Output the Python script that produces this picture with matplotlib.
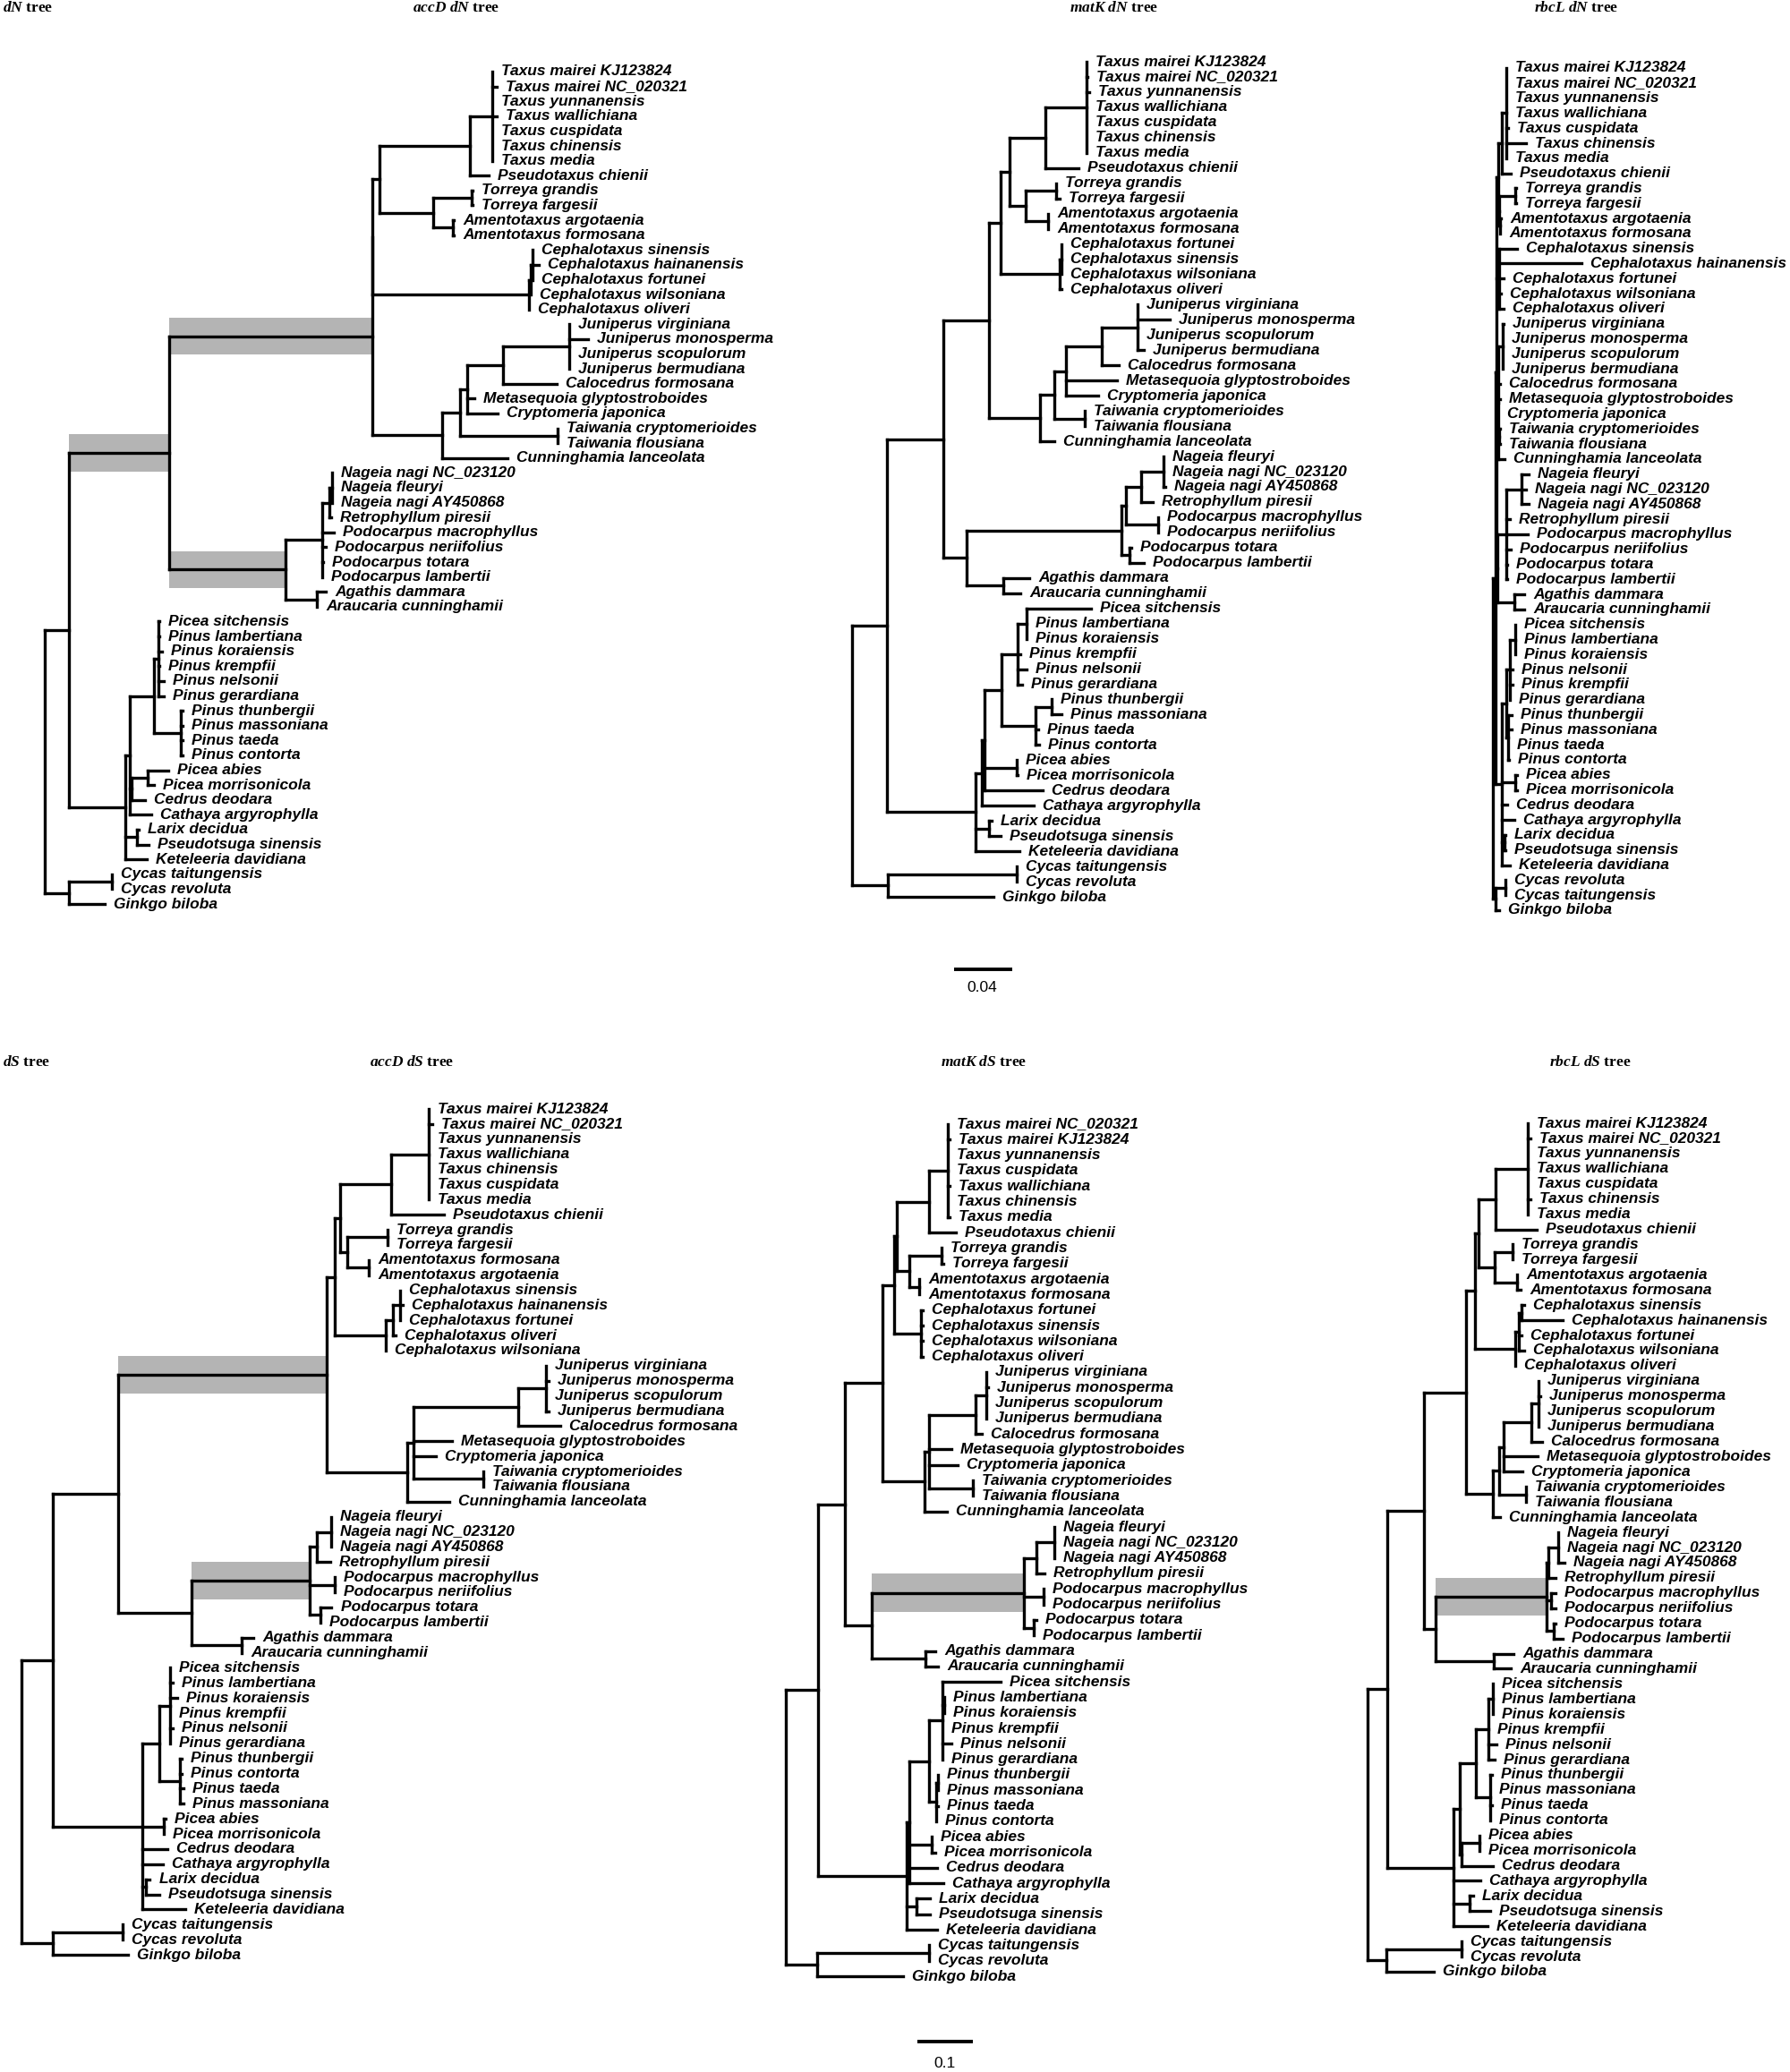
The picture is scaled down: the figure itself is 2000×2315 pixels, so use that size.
import matplotlib
matplotlib.use('Agg')
import matplotlib.pyplot as plt
from matplotlib.collections import LineCollection
from matplotlib.patches import Rectangle

plt.rcParams['mathtext.fontset'] = 'custom'
plt.rcParams['mathtext.rm'] = 'Liberation Serif:bold'
plt.rcParams['mathtext.it'] = 'Liberation Serif:italic:bold'
plt.rcParams['mathtext.bf'] = 'Liberation Serif:bold'

# ---------------- data: trees (Newick, branch lengths in substitutions/site; '*' = highlighted branch)
TREE_ACCD_DN = (
    "((((((((Taxus mairei KJ123824:0,Taxus mairei NC_020321:0.0031,Taxus yunnanensis:0,Taxus wallichiana:0.0031,"
    "Taxus cuspidata:0,Taxus chinensis:0,Taxus media:0):0.0154,Pseudotaxus chienii:0.0129):0.0621,"
    "((Torreya grandis:0.0006,Torreya fargesii:0.0006):0.0264,(Amentotaxus argotaenia:0.0006,Amentotaxus formosana:0.0006):0.0135):0.0369"
    "):0.0049,"
    "(((Cephalotaxus sinensis:0,Cephalotaxus hainanensis:0.0043,Cephalotaxus fortunei:0):0.0012,Cephalotaxus wilsoniana:0):0.0012,Cephalotaxus oliveri:0):0.1076"
    "):0,"
    "(((((Juniperus virginiana:0,Juniperus monosperma:0.0129,Juniperus scopulorum:0,Juniperus bermudiana:0):0.0455,Calocedrus formosana:0.0369):0.0246,"
    "Metasequoia glyptostroboides:0.0049,Cryptomeria japonica:0.0209):0.0049,(Taiwania cryptomerioides:0,Taiwania flousiana:0):0.0670):0.0123,"
    "Cunninghamia lanceolata:0.0449):0.0480"
    ")*:0.1396,"
    "((((Nageia nagi NC_023120:0,Nageia fleuryi:0,Nageia nagi AY450868:0):0.0018,Retrophyllum piresii:0.0012):0.0049,"
    "Podocarpus macrophyllus:0.0080,Podocarpus neriifolius:0.0025,Podocarpus totara:0.0006,Podocarpus lambertii:0):0.0252,"
    "(Agathis dammara:0.0062,Araucaria cunninghamii:0):0.0215)*:0.0800"
    ")*:0.0689,"
    "((((Picea sitchensis:0.0006,Pinus lambertiana:0.0006,Pinus koraiensis:0.0025,Pinus krempfii:0.0006,Pinus nelsonii:0.0037,"
    "Pinus gerardiana:0.0037):0.0031,(Pinus thunbergii:0.0012,Pinus massoniana:0.0012,Pinus taeda:0.0012,Pinus contorta:0.0012):0.0185):0.0166,"
    "((Picea abies:0.0141,Picea morrisonicola:0.0043):0.0111,Cedrus deodara:0.0092):0.0012,Cathaya argyrophylla:0.0148):0.0031,"
    "(Larix decidua:0.0012,Pseudotsuga sinensis:0.0080):0.0080,Keteleeria davidiana:0.0148):0.0387"
    "):0.0166,"
    "((Cycas taitungensis:0,Cycas revoluta:0):0.0295,Ginkgo biloba:0.0246):0.0166);"
)

TREE_MATK_DN = (
    "((((((((Taxus mairei KJ123824:0,Taxus mairei NC_020321:0.0006,Taxus yunnanensis:0.0018,Taxus wallichiana:0,"
    "Taxus cuspidata:0,Taxus chinensis:0,Taxus media:0):0.0283,Pseudotaxus chienii:0.0228):0.0246,"
    "((Torreya grandis:0,Torreya fargesii:0.0025):0.0209,(Amentotaxus argotaenia:0,Amentotaxus formosana:0):0.0154):0.0111"
    "):0.0062,"
    "((Cephalotaxus fortunei:0,Cephalotaxus sinensis:0,Cephalotaxus wilsoniana:0):0.0012,Cephalotaxus oliveri:0.0012):0.0406"
    "):0.0080,"
    "(((((Juniperus virginiana:0,Juniperus monosperma:0.0221,Juniperus scopulorum:0,Juniperus bermudiana:0.0043):0.0246,"
    "Calocedrus formosana:0.0117):0.0246,Metasequoia glyptostroboides:0.0351,Cryptomeria japonica:0.0221):0.0080,"
    "(Taiwania cryptomerioides:0,Taiwania flousiana:0):0.0209):0.0098,Cunninghamia lanceolata:0.0098):0.0351"
    "):0.0314,"
    "(((((Nageia fleuryi:0,Nageia nagi NC_023120:0,Nageia nagi AY450868:0.0012):0.0154,Retrophyllum piresii:0.0080):0.0105,"
    "(Podocarpus macrophyllus:0,Podocarpus neriifolius:0):0.0221):0.0031,(Podocarpus totara:0.0012,Podocarpus lambertii:0.0098):0.0055):0.1064,"
    "(Agathis dammara:0.0178,Araucaria cunninghamii:0.0117):0.0252):0.0160"
    "):0.0387,"
    "((((((Picea sitchensis:0.0443,Pinus lambertiana:0,Pinus koraiensis:0):0.0062,Pinus krempfii:0.0018,Pinus nelsonii:0.0062,"
    "Pinus gerardiana:0.0031):0.0111,((Pinus thunbergii:0,Pinus massoniana:0.0068):0.0111,Pinus taeda:0.0018,Pinus contorta:0.0025):0.0234):0.0117,"
    "(Picea abies:0,Picea morrisonicola:0.0006):0.0221,Cedrus deodara:0.0400):0.0018,Cathaya argyrophylla:0.0357):0.0043,"
    "(Larix decidua:0.0018,Pseudotsuga sinensis:0.0080):0.0092,Keteleeria davidiana:0.0301):0.0609"
    "):0.0240,"
    "((Cycas taitungensis:0,Cycas revoluta:0):0.0886,Ginkgo biloba:0.0726):0.0246);"
)

TREE_RBCL_DN = (
    "((((((Taxus mairei KJ123824:0,Taxus mairei NC_020321:0,Taxus yunnanensis:0,Taxus wallichiana:0,Taxus cuspidata:0.0012,"
    "Taxus chinensis:0.0135,Taxus media:0):0.0031,Pseudotaxus chienii:0.0062):0.0025,"
    "((Torreya grandis:0.0006,Torreya fargesii:0.0006):0.0111,(Amentotaxus argotaenia:0.0006,Amentotaxus formosana:0):0.0006):0.0006"
    "):0.0012,"
    "(Cephalotaxus sinensis:0.0123,Cephalotaxus hainanensis:0.0566,Cephalotaxus fortunei:0.0031,Cephalotaxus wilsoniana:0.0012,"
    "Cephalotaxus oliveri:0.0031):0.0018,"
    "((Juniperus virginiana:0.0006,Juniperus monosperma:0,Juniperus scopulorum:0,Juniperus bermudiana:0):0.0031,Calocedrus formosana:0.0012,"
    "Metasequoia glyptostroboides:0.0012,Cryptomeria japonica:0,(Taiwania cryptomerioides:0.0006,Taiwania flousiana:0.0006):0.0006,"
    "Cunninghamia lanceolata:0.0043):0.0012,"
    "(((Nageia fleuryi:0.0049,Nageia nagi NC_023120:0.0031,Nageia nagi AY450868:0.0049):0.0105,Retrophyllum piresii:0.0025,"
    "Podocarpus macrophyllus:0.0148,Podocarpus neriifolius:0.0031,Podocarpus totara:0.0006,Podocarpus lambertii:0.0006):0.0062,"
    "(Agathis dammara:0.0068,Araucaria cunninghamii:0.0068):0.0117):0.0006"
    "):0.0006,"
    "((((Picea sitchensis:0,Pinus lambertiana:0,Pinus koraiensis:0):0.0037,Pinus nelsonii:0.0018,Pinus krempfii:0.0018,Pinus gerardiana:0):0.0025,"
    "(Pinus thunbergii:0.0025,Pinus massoniana:0.0025,Pinus taeda:0,Pinus contorta:0.0006):0.0012):0.0031,"
    "(Picea abies:0.0012,Picea morrisonicola:0.0012):0.0092,Cedrus deodara:0.0037,Cathaya argyrophylla:0.0086,"
    "(Larix decidua:0.0006,Pseudotsuga sinensis:0.0006):0.0018,Keteleeria davidiana:0.0055):0.0043"
    "):0.0018,"
    "((Cycas revoluta:0,Cycas taitungensis:0):0.0068,Ginkgo biloba:0.0025):0.0018);"
)

TREE_ACCD_DS = (
    "((((((((Taxus mairei KJ123824:0,Taxus mairei NC_020321:0.0065,Taxus yunnanensis:0,Taxus wallichiana:0,Taxus chinensis:0,"
    "Taxus cuspidata:0,Taxus media:0):0.0677,Pseudotaxus chienii:0.0952):0.0919,"
    "((Torreya grandis:0,Torreya fargesii:0):0.0726,(Amentotaxus formosana:0,Amentotaxus argotaenia:0):0.0387):0.0129"
    "):0.0097,"
    "(((Cephalotaxus sinensis:0,Cephalotaxus hainanensis:0.0048,Cephalotaxus fortunei:0):0.0129,Cephalotaxus oliveri:0.0048):0.0129,"
    "Cephalotaxus wilsoniana:0):0.0919"
    "):0.0145,"
    "((((Juniperus virginiana:0,Juniperus monosperma:0.0048,Juniperus scopulorum:0,Juniperus bermudiana:0.0048):0.0500,"
    "Calocedrus formosana:0.0758):0.1887,Metasequoia glyptostroboides:0.0694,Cryptomeria japonica:0.0403,"
    "(Taiwania cryptomerioides:0,Taiwania flousiana:0):0.1258):0.0113,Cunninghamia lanceolata:0.0758):0.1452"
    ")*:0.3758,"
    "((((Nageia fleuryi:0,Nageia nagi NC_023120:0,Nageia nagi AY450868:0):0.0258,Retrophyllum piresii:0.0242):0.0129,"
    "(Podocarpus macrophyllus:0,Podocarpus neriifolius:0):0.0452,(Podocarpus totara:0.0194,Podocarpus lambertii:0):0.0194)*:0.2129,"
    "(Agathis dammara:0.0210,Araucaria cunninghamii:0):0.0903):0.1323"
    "):0.1177,"
    "(((Picea sitchensis:0,Pinus lambertiana:0.0048,Pinus koraiensis:0.0129,Pinus krempfii:0,Pinus nelsonii:0.0048,"
    "Pinus gerardiana:0):0.0194,(Pinus thunbergii:0.0032,Pinus contorta:0.0032,Pinus taeda:0.0065,Pinus massoniana:0.0065):0.0371):0.0306,"
    "(Picea abies:0.0032,Picea morrisonicola:0):0.0387,Cedrus deodara:0.0452,Cathaya argyrophylla:0.0371,"
    "(Larix decidua:0.0065,Pseudotsuga sinensis:0.0242):0.0065,Keteleeria davidiana:0.0774):0.1613"
    "):0.0565,"
    "((Cycas taitungensis:0,Cycas revoluta:0):0.1258,Ginkgo biloba:0.1355):0.0565);"
)

TREE_MATK_DS = (
    "((((((((Taxus mairei NC_020321:0,Taxus mairei KJ123824:0.0032,Taxus yunnanensis:0,Taxus cuspidata:0,Taxus wallichiana:0.0032,"
    "Taxus chinensis:0,Taxus media:0.0032):0.0339,Pseudotaxus chienii:0.0484):0.0581,"
    "((Torreya grandis:0,Torreya fargesii:0.0032):0.0581,(Amentotaxus argotaenia:0,Amentotaxus formosana:0):0.0177):0.0226"
    "):0.0048,"
    "(Cephalotaxus fortunei:0.0032,Cephalotaxus sinensis:0.0032,Cephalotaxus wilsoniana:0.0032,Cephalotaxus oliveri:0.0032):0.0484"
    "):0.0210,"
    "((((Juniperus virginiana:0,Juniperus monosperma:0.0032,Juniperus scopulorum:0,Juniperus bermudiana:0):0.0194,"
    "Calocedrus formosana:0.0113):0.0839,Metasequoia glyptostroboides:0.0403,Cryptomeria japonica:0.0516,"
    "(Taiwania cryptomerioides:0,Taiwania flousiana:0):0.0790):0.0081,Cunninghamia lanceolata:0.0403):0.0758"
    "):0.0677,"
    "((((Nageia fleuryi:0,Nageia nagi NC_023120:0,Nageia nagi AY450868:0):0.0323,Retrophyllum piresii:0.0145):0.0226,"
    "(Podocarpus macrophyllus:0,Podocarpus neriifolius:0):0.0355,(Podocarpus totara:0.0048,Podocarpus lambertii:0):0.0177)*:0.2742,"
    "(Agathis dammara:0.0177,Araucaria cunninghamii:0.0226):0.0968):0.0484"
    "):0.0484,"
    "((((Picea sitchensis:0.1048,(Pinus lambertiana:0,Pinus koraiensis:0):0.0032,Pinus krempfii:0,Pinus nelsonii:0.0161,"
    "Pinus gerardiana:0):0.0242,((Pinus thunbergii:0,Pinus massoniana:0):0.0032,Pinus taeda:0.0032,Pinus contorta:0):0.0129):0.0355,"
    "(Picea abies:0,Picea morrisonicola:0.0065):0.0403,Cedrus deodara:0.0500,Cathaya argyrophylla:0.0613):0.0048,"
    "(Larix decidua:0.0242,Pseudotsuga sinensis:0.0242):0.0177,Keteleeria davidiana:0.0548):0.1597"
    "):0.0581,"
    "((Cycas taitungensis:0,Cycas revoluta:0):0.2016,Ginkgo biloba:0.1548):0.0565);"
)

TREE_RBCL_DS = (
    "((((((((Taxus mairei KJ123824:0,Taxus mairei NC_020321:0.0048,Taxus yunnanensis:0,Taxus wallichiana:0,Taxus cuspidata:0,"
    "Taxus chinensis:0.0048,Taxus media:0):0.0581,Pseudotaxus chienii:0.0742):0.0306,"
    "((Torreya grandis:0,Torreya fargesii:0):0.0323,(Amentotaxus argotaenia:0,Amentotaxus formosana:0.0065):0.0403):0.0290"
    "):0.0065,"
    "(((Cephalotaxus sinensis:0.0048,Cephalotaxus hainanensis:0.0742):0.0048,Cephalotaxus fortunei:0.0048,"
    "Cephalotaxus wilsoniana:0.0097):0.0065,Cephalotaxus oliveri:0):0.0726"
    "):0.0161,"
    "(((((Juniperus virginiana:0,Juniperus monosperma:0.0032,Juniperus scopulorum:0,Juniperus bermudiana:0):0.0129,"
    "Calocedrus formosana:0.0194):0.0500,Metasequoia glyptostroboides:0.0613,Cryptomeria japonica:0.0339):0.0081,"
    "(Taiwania cryptomerioides:0,Taiwania flousiana:0):0.0484):0.0113,Cunninghamia lanceolata:0.0129):0.0484"
    "):0.0758,"
    "((((Nageia fleuryi:0,Nageia nagi NC_023120:0,Nageia nagi AY450868:0.0113):0.0177,Retrophyllum piresii:0.0129):0.0032,"
    "(Podocarpus macrophyllus:0.0081,Podocarpus neriifolius:0.0081):0.0081,(Podocarpus totara:0.0032,Podocarpus lambertii:0.0161):0.0129)*:0.2000,"
    "(Agathis dammara:0.0355,Araucaria cunninghamii:0.0306):0.1048):0.0210"
    "):0.0661,"
    "(((((Picea sitchensis:0,Pinus lambertiana:0,Pinus koraiensis:0):0.0081,Pinus krempfii:0,Pinus nelsonii:0.0145,"
    "Pinus gerardiana:0.0113):0.0226,(Pinus thunbergii:0.0032,Pinus massoniana:0,Pinus taeda:0.0032,Pinus contorta:0):0.0258):0.0290,"
    "((Picea abies:0,Picea morrisonicola:0):0.0323,Cedrus deodara:0.0565):0.0032):0.0113,Cathaya argyrophylla:0.0484,"
    "(Larix decidua:0.0065,Pseudotsuga sinensis:0.0371):0.0290,Keteleeria davidiana:0.0613):0.1194"
    "):0.0355,"
    "((Cycas taitungensis:0,Cycas revoluta:0):0.1355,Ginkgo biloba:0.0855):0.0339);"
)

SCALE_DN = 0.04
SCALE_DS = 0.1
SCALE_LABELS = ["0.04", "0.1"]

ROW_TITLES = [r"$\mathit{dN}$ tree", r"$\mathit{dS}$ tree"]
TREE_TITLES = [r"$\mathit{accD}$ $\mathit{dN}$ tree", r"$\mathit{matK}$ $\mathit{dN}$ tree", r"$\mathit{rbcL}$ $\mathit{dN}$ tree",
               r"$\mathit{accD}$ $\mathit{dS}$ tree", r"$\mathit{matK}$ $\mathit{dS}$ tree", r"$\mathit{rbcL}$ $\mathit{dS}$ tree"]

# ---------------- layout (pixels of the 2000x2315 canvas)
W, H = 2000, 2315
PX_DN = 67 / 0.04     # pixels per unit
PX_DS = 62 / 0.1
LINE_W = 2.4
GRAY = '#b4b4b4'
LABEL_FS = 12.5

# newick, root x, first tip y, last tip y, axes box (x0, y0, x1, y1), px per unit
TREES = [
    (TREE_ACCD_DN, 50, 80, 1010, (0, 40, 900, 1050), 65 / 0.04),
    (TREE_MATK_DN, 952, 69, 1002, (900, 40, 1640, 1050), 65 / 0.04),
    (TREE_RBCL_DN, 1668, 76, 1017, (1640, 40, 2000, 1050), 65 / 0.04),
    (TREE_ACCD_DS, 24, 1239, 2184, (0, 1210, 860, 2240), PX_DS),
    (TREE_MATK_DS, 878, 1256, 2208, (860, 1210, 1500, 2300), PX_DS),
    (TREE_RBCL_DS, 1528, 1255, 2203, (1500, 1210, 2000, 2240), PX_DS),
]
TITLE_POS = [(510, 9), (1245, 9), (1761, 9), (460, 1187), (1099, 1187), (1777, 1187)]


def parse_newick(s):
    s = s.strip().rstrip(';')
    pos = 0

    def node():
        nonlocal pos
        nd = {'children': [], 'name': '', 'length': 0.0}
        if s[pos] == '(':
            pos += 1
            while True:
                nd['children'].append(node())
                if s[pos] == ',':
                    pos += 1
                    continue
                if s[pos] == ')':
                    pos += 1
                    break
        start = pos
        while pos < len(s) and s[pos] not in ':,()':
            pos += 1
        nd['name'] = s[start:pos].strip()
        if pos < len(s) and s[pos] == ':':
            pos += 1
            start = pos
            while pos < len(s) and s[pos] not in ',()':
                pos += 1
            nd['length'] = float(s[start:pos])
        return nd
    return node()


def layout(nd, depth, tips):
    nd['x'] = depth + nd['length']
    if not nd['children']:
        nd['y'] = len(tips)
        tips.append(nd)
    else:
        for c in nd['children']:
            layout(c, nd['x'], tips)
        nd['y'] = 0.5 * (nd['children'][0]['y'] + nd['children'][-1]['y'])


fig = plt.figure(figsize=(W / 100, H / 100), dpi=100)
axes = []
for newick, root_px, top_px, bot_px, box, ppu in TREES:
    root = parse_newick(newick)
    tips = []
    layout(root, 0.0, tips)
    n = len(tips)
    sp = (bot_px - top_px) / (n - 1)
    x0, y0, x1, y1 = box
    ax = fig.add_axes([x0 / W, 1 - y1 / H, (x1 - x0) / W, (y1 - y0) / H])
    ax.set_xlim((x0 - root_px) / ppu, (x1 - root_px) / ppu)
    ax.set_ylim((y1 - top_px) / sp, (y0 - top_px) / sp)
    ax.axis('off')
    ax.patch.set_visible(False)
    axes.append((ax, root_px, top_px, sp, ppu))

    segs = []
    bands = []

    def walk(nd, px):
        if px is not None and nd['x'] > px:
            segs.append([(px, nd['y']), (nd['x'], nd['y'])])
            if nd['name'] == '*':
                bands.append((px, nd['x'], nd['y']))
        if nd['children']:
            segs.append([(nd['x'], nd['children'][0]['y']), (nd['x'], nd['children'][-1]['y'])])
            for c in nd['children']:
                walk(c, nd['x'])
    walk(root, None)

    for bx0, bx1, by in bands:
        ax.add_patch(Rectangle((bx0, by - 1.25), bx1 - bx0, 2.5, facecolor=GRAY, edgecolor='none', zorder=1))
    ax.add_collection(LineCollection(segs, colors='black', linewidths=LINE_W, capstyle='projecting', zorder=2,
                                     clip_on=False))
    for t in tips:
        ax.annotate(t['name'], xy=(t['x'], t['y']), xytext=(7.5, 0), textcoords='offset points',
                    ha='left', va='center', fontsize=LABEL_FS, fontweight='bold', fontstyle='italic',
                    family='Liberation Sans', annotation_clip=False, zorder=3)

# titles
fig.text(3 / W, 1 - 9 / H, ROW_TITLES[0], ha='left', va='center', fontsize=12.5,
         family='Liberation Serif', fontweight='bold')
fig.text(3 / W, 1 - 1187 / H, ROW_TITLES[1], ha='left', va='center', fontsize=12.5,
         family='Liberation Serif', fontweight='bold')
for (tx, ty), title in zip(TITLE_POS, TREE_TITLES):
    fig.text(tx / W, 1 - ty / H, title, ha='center', va='center', fontsize=12.5,
             family='Liberation Serif', fontweight='bold')


# scale bars
def px_to_data(a, xp, yp):
    ax, root_px, top_px, sp, ppu = a
    return (xp - root_px) / ppu, (yp - top_px) / sp


for a, length, label, (sx, sy), (lx, ly) in [
        (axes[1], SCALE_DN, SCALE_LABELS[0], (1066, 1083), (1097, 1103)),
        (axes[4], SCALE_DS, SCALE_LABELS[1], (1025, 2281), (1056, 2306))]:
    ax = a[0]
    xd, yd = px_to_data(a, sx, sy)
    ax.plot([xd, xd + length], [yd, yd], color='black', lw=2.8, solid_capstyle='butt', clip_on=False)
    lxd, lyd = px_to_data(a, lx, ly)
    ax.text(lxd, lyd, label, ha='center', va='center', fontsize=12.5, family='Liberation Sans', clip_on=False)

fig.savefig('out.png', dpi=100, facecolor='white')
